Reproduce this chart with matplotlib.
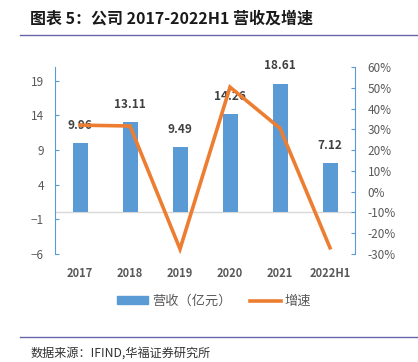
import matplotlib.pyplot as plt
from matplotlib.lines import Line2D
from matplotlib.patches import Patch

plt.rcParams['font.family'] = ['Noto Sans CJK SC', 'DejaVu Sans']

years = ['2017', '2018', '2019', '2020', '2021', '2022H1']
revenue = [9.96, 13.11, 9.49, 14.26, 18.61, 7.12]
growth = [32.0, 31.6, -27.6, 50.3, 30.5, -27.0]

left_ticks = [-6, -1, 4, 9, 14, 19]
right_ticks = list(range(-30, 61, 10))

bar_color = '#5B9BD5'
line_color = '#ED7D31'
text_color = '#595959'

fig = plt.figure(figsize=(4.18, 3.62), dpi=100)
ax = fig.add_axes([0.1316, 0.2983, 0.7177, 0.5167])
ax2 = ax.twinx()

x = list(range(len(years)))
ax.bar(x, revenue, width=0.3, color=bar_color, zorder=2)
ax.axhline(0, color='#D9D9D9', lw=1, zorder=1)
for xi, v in zip(x, revenue):
    ax.annotate(f'{v:.2f}', (xi, v), xytext=(0, 8), textcoords='offset points',
                ha='center', va='bottom', fontsize=8.5, fontweight='bold', color='#404040')

ax.set_xlim(-0.5, 5.5)
ax.set_ylim(-6, 21)
ax.set_yticks(left_ticks)
ax.set_xticks(x)
ax.set_xticklabels(years, fontweight='bold')
ax.tick_params(axis='x', length=0, pad=9, labelsize=8, labelcolor=text_color)
ax.tick_params(axis='y', direction='in', length=3, color=bar_color, pad=8,
               labelsize=8.5, labelcolor=text_color)

ax2.plot(x, growth, color=line_color, lw=2.6, solid_joinstyle='miter', zorder=3)
ax2.set_ylim(-30, 60)
ax2.set_yticks(right_ticks)
ax2.set_yticklabels([f'{t}%' for t in right_ticks])
ax2.tick_params(axis='y', direction='in', length=3, color=bar_color, pad=9,
                labelsize=8.5, labelcolor=text_color)

for a in (ax, ax2):
    a.spines['top'].set_visible(False)
    a.spines['bottom'].set_visible(False)
    a.spines['left'].set_color(bar_color)
    a.spines['right'].set_color(bar_color)
ax2.spines['left'].set_visible(False)
ax.spines['right'].set_visible(False)

handles = [Patch(color=bar_color), Line2D([], [], color=line_color, lw=2.6)]
fig.legend(handles, ['营收（亿元）', '增速'], loc='center', bbox_to_anchor=(0.512, 0.168),
           ncol=2, frameon=False, fontsize=9.5, handlelength=2.4, handleheight=0.45,
           handletextpad=0.25, columnspacing=1.4, labelcolor=text_color)

fig.text(0.072, 0.95, '图表 5：公司 2017-2022H1 营收及增速', fontsize=11.5,
         fontweight='bold', va='center', color='#1a1a1a')
fig.add_artist(Line2D([0.048, 1.0], [0.903, 0.903], color='#6666AA', lw=1))
fig.add_artist(Line2D([0.048, 1.0], [0.069, 0.069], color='#6666AA', lw=1))
fig.text(0.072, 0.025, '数据来源：IFIND,华福证券研究所', fontsize=8.7, va='center', color='#333333')

fig.savefig('out.png', dpi=100)
